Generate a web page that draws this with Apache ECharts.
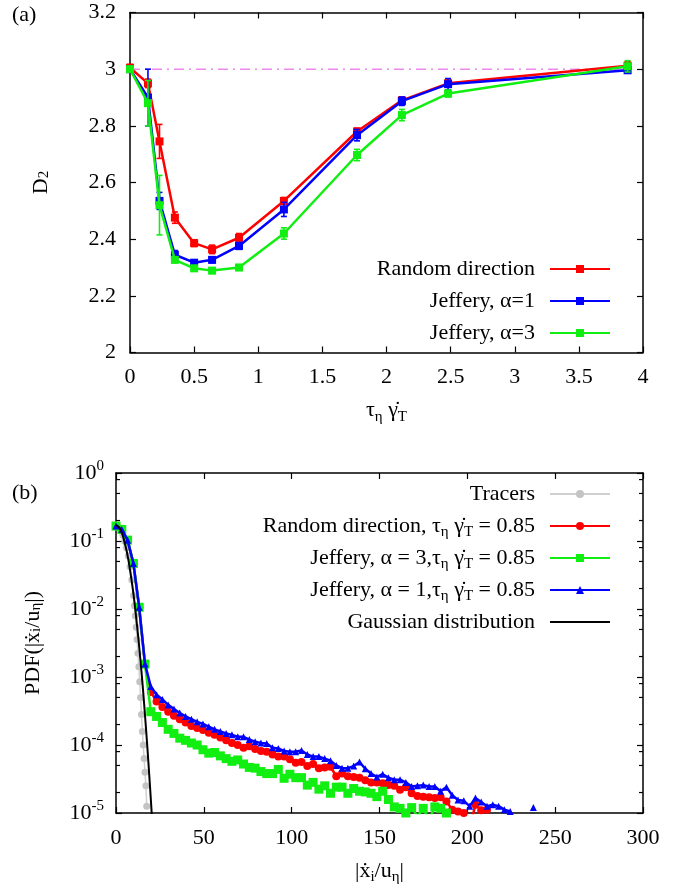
<!DOCTYPE html>
<html><head><meta charset="utf-8">
<script src="https://cdn.jsdelivr.net/npm/echarts@6/dist/echarts.min.js"></script>
<style>html,body{margin:0;padding:0;background:#fff}#c{width:685px;height:893px}</style>
</head><body><div id="c"></div>
<script>
// ---------- panel (a) ----------
const tauX = [0, 0.14, 0.23, 0.35, 0.5, 0.64, 0.85, 1.2, 1.77, 2.12, 2.48, 3.88];
const d2Random    = [3.005, 2.95, 2.745, 2.476, 2.386, 2.364, 2.405, 2.535, 2.78, 2.89, 2.95, 3.012];
const d2RandomErr = [0.012, 0.015, 0.06, 0.02, 0.012, 0.015, 0.015, 0.012, 0.012, 0.01, 0.012, 0.015];
const d2Jeff1     = [3.0, 2.90, 2.535, 2.345, 2.317, 2.327, 2.376, 2.505, 2.767, 2.887, 2.947, 2.996];
const d2Jeff1Err  = [0.01, 0.1, 0.03, 0.015, 0.01, 0.01, 0.012, 0.025, 0.02, 0.015, 0.02, 0.01];
const d2Jeff3     = [3.0, 2.88, 2.52, 2.327, 2.297, 2.289, 2.30, 2.42, 2.697, 2.838, 2.914, 3.01];
const d2Jeff3Err  = [0.01, 0.08, 0.105, 0.01, 0.01, 0.01, 0.01, 0.02, 0.02, 0.02, 0.012, 0.02];
const refLineX = [0, 3.88];
const refLineY = 3;

// ---------- panel (b) ----------
const binX = [0,3.3,6.6,9.9,13.2,16.5,19.8,23.1,26.4,29.7,33,36.3,39.6,42.9,46.2,49.5,52.8,56.1,59.4,62.7,
  66,69.3,72.6,75.9,79.2,82.5,85.8,89.1,92.4,95.7,99,102.3,105.6,108.9,112.2,115.5,118.8,122.1,125.4,128.7,
  132,135.3,138.6,141.9,145.2,148.5,151.8,155.1,158.4,161.7,165,168.3,171.6,174.9,178.2,181.5,184.8,188.1,191.4,194.7,
  198,201.3,204.6,207.9,211.2,214.5,217.8,221.1,224.4,227.7,231,234.3,237.6];
const pdfRandom = [1.66e-1,1.48e-1,1.03e-1,4.68e-2,1.06e-2,1.55e-3,6.03e-4,4.37e-4,3.63e-4,3.09e-4,
  2.69e-4,2.40e-4,2.14e-4,1.91e-4,1.78e-4,1.66e-4,1.51e-4,1.41e-4,1.29e-4,1.17e-4,
  1.07e-4,1.00e-4,9.12e-5,9.55e-5,8.71e-5,8.13e-5,7.94e-5,7.24e-5,6.76e-5,6.76e-5,
  6.17e-5,5.50e-5,5.62e-5,4.90e-5,5.25e-5,4.57e-5,4.68e-5,4.79e-5,3.47e-5,3.80e-5,
  3.47e-5,3.39e-5,3.31e-5,3.02e-5,2.82e-5,2.82e-5,2.75e-5,2.57e-5,2.51e-5,2.19e-5,
  2.40e-5,1.95e-5,1.78e-5,1.74e-5,1.70e-5,1.66e-5,1.70e-5,1.48e-5,1.12e-5,1.05e-5,
  1.00e-5,6.0e-6,1.32e-5,1.10e-5,1.12e-5,null,null,null,null,null,
  null,null,null];
const pdfJeff3 = [1.66e-1,1.48e-1,1.03e-1,4.68e-2,1.06e-2,1.55e-3,3.09e-4,2.63e-4,2.14e-4,1.70e-4,
  1.48e-4,1.26e-4,1.17e-4,1.07e-4,1.00e-4,8.51e-5,7.59e-5,7.76e-5,6.92e-5,6.31e-5,
  5.75e-5,6.03e-5,5.25e-5,4.68e-5,4.57e-5,4.07e-5,3.80e-5,3.80e-5,4.37e-5,3.24e-5,
  3.72e-5,3.31e-5,3.31e-5,2.57e-5,2.82e-5,2.24e-5,2.51e-5,1.95e-5,2.40e-5,2.40e-5,
  1.95e-5,2.29e-5,2.09e-5,2.04e-5,1.95e-5,1.74e-5,2.09e-5,1.58e-5,1.23e-5,1.17e-5,
  1.00e-5,1.20e-5,8.9e-6,1.17e-5,7.9e-6,1.23e-5,1.17e-5,1.00e-5,5.0e-6,null,
  null,null,null,null,null,null,null,null,null,null,
  null,null,null];
const pdfJeff1 = [1.66e-1,1.48e-1,1.03e-1,4.68e-2,1.06e-2,1.55e-3,7.24e-4,5.50e-4,4.68e-4,3.89e-4,
  3.39e-4,2.95e-4,2.63e-4,2.40e-4,2.19e-4,2.04e-4,1.86e-4,1.70e-4,1.58e-4,1.48e-4,
  1.41e-4,1.32e-4,1.32e-4,1.20e-4,1.12e-4,1.07e-4,1.05e-4,9.12e-5,8.91e-5,8.13e-5,
  7.94e-5,7.94e-5,8.32e-5,7.24e-5,6.76e-5,6.76e-5,6.31e-5,5.89e-5,5.01e-5,4.57e-5,
  4.57e-5,4.90e-5,5.62e-5,4.47e-5,3.80e-5,3.39e-5,3.72e-5,3.31e-5,3.09e-5,3.09e-5,
  2.82e-5,2.45e-5,2.51e-5,2.57e-5,2.45e-5,2.45e-5,2.09e-5,2.40e-5,1.82e-5,1.55e-5,
  1.51e-5,1.26e-5,1.66e-5,1.45e-5,1.26e-5,1.32e-5,1.26e-5,1.12e-5,1.05e-5,null,
  null,null,1.20e-5];
const tracerX = [0,1,2,3,4,5,6,7,8,9,10,10.5,11,11.5,12,12.5,13,13.5,14,14.5,15,15.5,16,16.5,17,17.5];
const pdfTracer = [1.70e-1,1.66e-1,1.55e-1,1.38e-1,1.20e-1,1.00e-1,7.94e-2,6.03e-2,4.17e-2,2.69e-2,
  1.58e-2,1.12e-2,7.94e-3,5.37e-3,3.55e-3,2.24e-3,1.41e-3,8.51e-4,5.01e-4,2.82e-4,
  1.58e-4,1.00e-4,6.31e-5,3.98e-5,2.51e-5,1.26e-5];
const gaussX = [0,1,2,3,4,5,6,7,8,9,10,11,12,13,14,15,16,17,18,19,20,21];
const pdfGauss = [1.70e-1,1.66e-1,1.55e-1,1.38e-1,1.17e-1,9.33e-2,7.24e-2,5.37e-2,3.72e-2,2.51e-2,
  1.62e-2,9.77e-3,5.62e-3,3.16e-3,1.66e-3,8.51e-4,4.07e-4,1.86e-4,8.13e-5,3.39e-5,1.35e-5,5.13e-6];
const logMinorTicks = [2e-5,5e-5,8e-5,2e-4,5e-4,8e-4,2e-3,5e-3,8e-3,2e-2,5e-2,8e-2,2e-1,5e-1,8e-1];

// ---------- styles ----------
const FONT = "'Liberation Serif','Times New Roman',serif";
const FS = 22;
const RED = '#ff0000', BLUE = '#0000ff', GREEN = '#11ee11';
const subStyle = {fontFamily: FONT, fontSize: 15, lineHeight: 15, verticalAlign: 'bottom', color: '#000'};
const supStyle = {fontFamily: FONT, fontSize: 15, lineHeight: 15, verticalAlign: 'top', color: '#000'};
const baseRich = {
  t: {fontFamily: FONT, fontSize: FS, lineHeight: 28, color: '#000'},
  s: subStyle,
  p: supStyle
};

function errRender(params, api) {
  const x = api.value(0), y = api.value(1), e = api.value(2);
  const lo = api.coord([x, y - e]), hi = api.coord([x, y + e]);
  const w = 3;
  const style = {stroke: api.visual('color'), lineWidth: 1.6, fill: null};
  return {type: 'group', children: [
    {type: 'line', shape: {x1: lo[0], y1: lo[1], x2: hi[0], y2: hi[1]}, style: style},
    {type: 'line', shape: {x1: lo[0] - w, y1: lo[1], x2: lo[0] + w, y2: lo[1]}, style: style},
    {type: 'line', shape: {x1: hi[0] - w, y1: hi[1], x2: hi[0] + w, y2: hi[1]}, style: style}
  ]};
}
function minorRender(params, api) {
  const cs = params.coordSys;
  const p = api.coord([0, api.value(1)]);
  const style = {stroke: '#000', lineWidth: 1.2};
  return {type: 'group', children: [
    {type: 'line', shape: {x1: cs.x, y1: p[1], x2: cs.x + 4, y2: p[1]}, style: style},
    {type: 'line', shape: {x1: cs.x + cs.width - 4, y1: p[1], x2: cs.x + cs.width, y2: p[1]}, style: style}
  ]};
}

function axisCommon(extra) {
  return Object.assign({
    axisLine: {show: true, onZero: false, lineStyle: {color: '#000', width: 1.5}},
    axisTick: {show: true, inside: true, length: 6, lineStyle: {color: '#000', width: 1.2}},
    splitLine: {show: false},
    axisLabel: {show: true, fontFamily: FONT, fontSize: FS, color: '#000', margin: 14}
  }, extra);
}
function mirror(extra) {
  const a = axisCommon(extra);
  a.axisLabel = {show: false};
  return a;
}

const bottomLegendText = {
  'Tracers': 'Tracers',
  'RandomPDF': 'Random direction, τ{s|η} γ\u0307{s|T} = 0.85',
  'Jeff3PDF': 'Jeffery, α = 3,τ{s|η} γ\u0307{s|T} = 0.85',
  'Jeff1PDF': 'Jeffery, α = 1,τ{s|η} γ\u0307{s|T} = 0.85',
  'Gaussian distribution': 'Gaussian distribution'
};

const chart = echarts.init(document.getElementById('c'), null, {renderer: 'canvas'});
chart.setOption({
  animation: false,
  backgroundColor: '#fff',
  textStyle: {fontFamily: FONT},
  grid: [
    {left: 130, width: 513, top: 12.5, height: 340, containLabel: false},
    {left: 116, width: 527, top: 473, height: 340, containLabel: false}
  ],
  xAxis: [
    axisCommon({gridIndex: 0, type: 'value', min: 0, max: 4, interval: 0.5, position: 'bottom',
      name: '{t|τ}{s|η} {t|γ\u0307}{s|T}', nameLocation: 'middle', nameGap: 44,
      nameTextStyle: {fontFamily: FONT, fontSize: FS, color: '#000', rich: baseRich}}),
    mirror({gridIndex: 0, type: 'value', min: 0, max: 4, interval: 0.5, position: 'top'}),
    axisCommon({gridIndex: 1, type: 'value', min: 0, max: 300, interval: 50, position: 'bottom',
      name: '|{t|ẋ}{s|i}/u{s|η}|', nameLocation: 'middle', nameGap: 44,
      nameTextStyle: {fontFamily: FONT, fontSize: FS, color: '#000', rich: baseRich}}),
    mirror({gridIndex: 1, type: 'value', min: 0, max: 300, interval: 50, position: 'top'})
  ],
  yAxis: [
    axisCommon({gridIndex: 0, type: 'value', min: 2, max: 3.2, interval: 0.2, position: 'left',
      name: 'D{s|2}', nameLocation: 'middle', nameGap: 78,
      nameTextStyle: {fontFamily: FONT, fontSize: FS, color: '#000', rich: baseRich}}),
    mirror({gridIndex: 0, type: 'value', min: 2, max: 3.2, interval: 0.2, position: 'right'}),
    (function () {
      const a = axisCommon({gridIndex: 1, type: 'log', logBase: 10, min: 1e-5, max: 1, position: 'left',
        name: 'PDF(|ẋ{s|i}/u{s|η}|)', nameLocation: 'middle', nameGap: 72,
        nameTextStyle: {fontFamily: FONT, fontSize: FS, color: '#000', rich: baseRich}});
      a.axisLabel = {show: true, margin: 12, fontFamily: FONT, fontSize: FS, color: '#000',
        formatter: function (v) { return '{t|10}{p|' + Math.round(Math.log10(v)) + '}'; },
        rich: {t: {fontFamily: FONT, fontSize: FS, lineHeight: 28, color: '#000'}, p: supStyle}};
      return a;
    })(),
    mirror({gridIndex: 1, type: 'log', logBase: 10, min: 1e-5, max: 1, position: 'right'})
  ],
  legend: [
    {
      data: ['Random direction', 'Jeffery, α=1', 'Jeffery, α=3'],
      orient: 'vertical', align: 'right', right: 69, top: 252,
      itemWidth: 60, itemHeight: 10, itemGap: 8,
      textStyle: {fontFamily: FONT, fontSize: FS, color: '#000', padding: [0, 10, 0, 0], lineHeight: 24},
      selectedMode: false
    },
    {
      data: ['Tracers', 'RandomPDF', 'Jeff3PDF', 'Jeff1PDF',
        {name: 'Gaussian distribution', itemStyle: {color: 'rgba(0,0,0,0)', borderWidth: 0}}],
      orient: 'vertical', align: 'right', right: 69, top: 475,
      itemWidth: 60, itemHeight: 10, itemGap: 4,
      formatter: function (n) { return bottomLegendText[n]; },
      textStyle: {fontFamily: FONT, fontSize: FS, color: '#000', padding: [0, 10, 0, 0], lineHeight: 28,
        rich: {s: subStyle}},
      selectedMode: false
    }
  ],
  graphic: [
    {type: 'text', left: 12, top: 4, style: {text: '(a)', font: '22px ' + FONT, fill: '#000'}},
    {type: 'text', left: 12, top: 482, style: {text: '(b)', font: '22px ' + FONT, fill: '#000'}}
  ],
  series: [
    {type: 'line', name: 'ref', xAxisIndex: 0, yAxisIndex: 0, symbol: 'none', silent: true,
      data: refLineX.map(function (x) { return [x, refLineY]; }),
      lineStyle: {color: '#ee88ee', width: 1.5, type: [10, 5, 2, 5]}, z: 1},
    {type: 'custom', name: 'errR', xAxisIndex: 0, yAxisIndex: 0, renderItem: errRender, itemStyle: {color: RED},
      data: tauX.map(function (x, i) { return [x, d2Random[i], d2RandomErr[i]]; }), z: 2},
    {type: 'line', name: 'Random direction', xAxisIndex: 0, yAxisIndex: 0, symbol: 'rect', symbolSize: 8,
      itemStyle: {color: RED}, lineStyle: {color: RED, width: 2.5},
      data: tauX.map(function (x, i) { return [x, d2Random[i]]; }), z: 3},
    {type: 'custom', name: 'errB', xAxisIndex: 0, yAxisIndex: 0, renderItem: errRender, itemStyle: {color: BLUE},
      data: tauX.map(function (x, i) { return [x, d2Jeff1[i], d2Jeff1Err[i]]; }), z: 4},
    {type: 'line', name: 'Jeffery, α=1', xAxisIndex: 0, yAxisIndex: 0, symbol: 'rect', symbolSize: 8,
      itemStyle: {color: BLUE}, lineStyle: {color: BLUE, width: 2.5},
      data: tauX.map(function (x, i) { return [x, d2Jeff1[i]]; }), z: 5},
    {type: 'custom', name: 'errG', xAxisIndex: 0, yAxisIndex: 0, renderItem: errRender, itemStyle: {color: GREEN},
      data: tauX.map(function (x, i) { return [x, d2Jeff3[i], d2Jeff3Err[i]]; }), z: 6},
    {type: 'line', name: 'Jeffery, α=3', xAxisIndex: 0, yAxisIndex: 0, symbol: 'rect', symbolSize: 8,
      itemStyle: {color: GREEN}, lineStyle: {color: GREEN, width: 2.5},
      data: tauX.map(function (x, i) { return [x, d2Jeff3[i]]; }), z: 7},

    {type: 'custom', name: 'minor', xAxisIndex: 2, yAxisIndex: 2, renderItem: minorRender, silent: true,
      data: logMinorTicks.map(function (v) { return [0, v]; }), z: 1},
    {type: 'line', name: 'Tracers', xAxisIndex: 2, yAxisIndex: 2, symbol: 'circle', symbolSize: 7,
      itemStyle: {color: '#c4c4c4'}, lineStyle: {color: '#d0d0d0', width: 1.5},
      data: tracerX.map(function (x, i) { return [x, pdfTracer[i]]; }), z: 2},
    {type: 'line', name: 'RandomPDF', xAxisIndex: 2, yAxisIndex: 2, symbol: 'circle', symbolSize: 8,
      itemStyle: {color: RED}, lineStyle: {color: RED, width: 2.5}, connectNulls: false,
      data: binX.map(function (x, i) { return [x, pdfRandom[i]]; }), z: 3},
    {type: 'line', name: 'Jeff3PDF', xAxisIndex: 2, yAxisIndex: 2, symbol: 'rect', symbolSize: 9,
      itemStyle: {color: GREEN}, lineStyle: {color: GREEN, width: 2.5}, connectNulls: false,
      data: binX.map(function (x, i) { return [x, pdfJeff3[i]]; }), z: 4},
    {type: 'line', name: 'Jeff1PDF', xAxisIndex: 2, yAxisIndex: 2, symbol: 'triangle', symbolSize: 7,
      itemStyle: {color: BLUE}, lineStyle: {color: BLUE, width: 2.5}, connectNulls: false,
      data: binX.map(function (x, i) { return [x, pdfJeff1[i]]; }), z: 5},
    {type: 'line', name: 'Gaussian distribution', xAxisIndex: 2, yAxisIndex: 2, symbol: 'none', smooth: 0.3,
      itemStyle: {color: '#000'}, lineStyle: {color: '#000', width: 2},
      data: gaussX.map(function (x, i) { return [x, pdfGauss[i]]; }), z: 6}
  ]
});
</script></body></html>
